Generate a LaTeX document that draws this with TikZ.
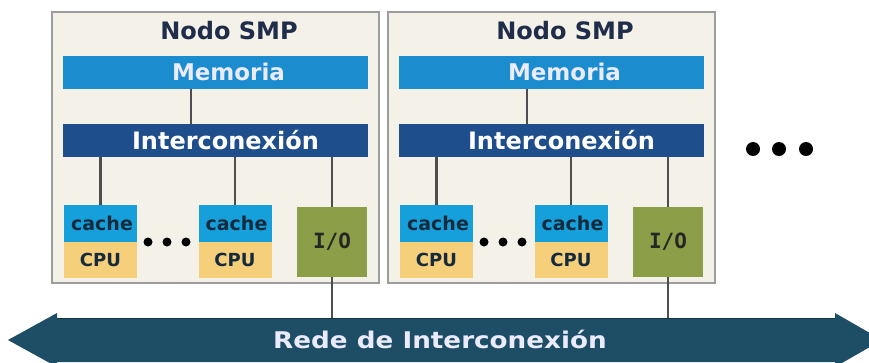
\documentclass[tikz,border=0pt]{standalone}
\usepackage{fontspec}
\newfontfamily\vfont{DejaVu Sans}
\newfontfamily\rfont{DejaVu Sans}[FakeStretch=1.14]
\newfontfamily\mfont{DejaVu Sans Mono}
\definecolor{boxfill}{HTML}{F4F2E8}
\definecolor{boxline}{HTML}{9C9C9C}
\definecolor{memc}{HTML}{1B8CCD}
\definecolor{intc}{HTML}{1F4E8C}
\definecolor{cachec}{HTML}{16A0DB}
\definecolor{cpuc}{HTML}{F5CF7A}
\definecolor{ioc}{HTML}{8C9F48}
\definecolor{arrowc}{HTML}{1E4D66}
\definecolor{titlec}{HTML}{1F2D4A}
\definecolor{darktxt}{HTML}{152A3C}
\definecolor{conc}{HTML}{4E4E4E}
\tikzset{
  x=1pt,y=-1pt,
  smpbox/.style={draw=boxline,line width=1.3pt,fill=boxfill,minimum width=327pt,minimum height=271pt,inner sep=0pt},
  bar/.style={minimum width=305pt,minimum height=33pt,inner sep=0pt},
  membar/.style={bar,fill=memc,text=blue!8!white,font=\vfont\bfseries\fontsize{23}{23}\selectfont},
  intbar/.style={bar,fill=intc,text=white,font=\vfont\bfseries\fontsize{24}{24}\selectfont},
  cachebox/.style={fill=cachec,minimum width=73pt,minimum height=37pt,inner sep=0pt,text=darktxt,font=\vfont\bfseries\fontsize{19}{19}\selectfont},
  cpubox/.style={fill=cpuc,minimum width=73pt,minimum height=36pt,inner sep=0pt,text=darktxt,font=\vfont\bfseries\fontsize{18}{18}\selectfont},
  iobox/.style={fill=ioc,minimum width=70pt,minimum height=70pt,inner sep=0pt,text=black!85,font=\mfont\bfseries\fontsize{21}{21}\selectfont},
  conn/.style={draw=conc,line width=2.4pt},
  dot/.style={fill=black,circle,inner sep=0pt}
}
\begin{document}
\begin{tikzpicture}
\useasboundingbox (0,0) rectangle (869,362);
\clip (0,0) rectangle (869,362);
\fill[white] (0,0) rectangle (869,362);
\foreach \dx/\s in {0/a,336/b}{
  \node[smpbox] (box\s) at (215.5+\dx,147.5) {};
  \node[text=titlec,font=\vfont\bfseries\fontsize{24}{24}\selectfont,inner sep=0pt] (title\s) at (229+\dx,31) {Nodo SMP};
  \node[membar] (mem\s) at (215.5+\dx,72) {\hspace*{26pt}Memoria};
  \node[intbar] (int\s) at (215.5+\dx,140.5) {\hspace*{20pt}Interconexión};
  \node[cachebox] (cacheone\s) at (100.5+\dx,223.5) {\hspace*{3pt}cache};
  \node[cpubox] (cpuone\s) at (100.5+\dx,260) {CPU};
  \node[cachebox] (cachetwo\s) at (235+\dx,223.5) {\hspace*{3pt}cache};
  \node[cpubox] (cputwo\s) at (235+\dx,260) {CPU};
  \node[iobox] (io\s) at (332+\dx,242) {I/O};
  \node[dot,minimum size=9pt] (d1\s) at (148+\dx,242) {};
  \node[dot,minimum size=9pt] (d2\s) at (167+\dx,242) {};
  \node[dot,minimum size=9pt] (d3\s) at (186+\dx,242) {};
  \coordinate (m\s) at (191+\dx,88.5);
  \draw[conn] (m\s) -- (m\s |- int\s.north);
  \draw[conn] (cacheone\s.north) -- (cacheone\s.north |- int\s.south);
  \draw[conn] (cachetwo\s.north) -- (cachetwo\s.north |- int\s.south);
  \draw[conn] (io\s.north) -- (io\s.north |- int\s.south);
}
% big dots
\node[dot,minimum size=14pt] (bd1) at (753,149) {};
\node[dot,minimum size=14pt] (bd2) at (779,149) {};
\node[dot,minimum size=14pt] (bd3) at (806,149) {};
% bus arrow
\fill[arrowc] (8,340) -- (57,313) -- (57,318) -- (835,318) -- (835,313) -- (882,340) -- (835,367) -- (835,362) -- (57,362) -- (57,367) -- cycle;
\draw[arrowc!70!black,line width=1pt] (57,318.5) -- (835,318.5);
\coordinate (bus) at (440,318);
\node[text=white!92!blue,font=\rfont\bfseries\fontsize{23}{23}\selectfont,inner sep=0pt] (rede) at (440,339) {Rede de Interconexión};
\draw[conn] (ioa.south) -- (ioa.south |- bus);
\draw[conn] (iob.south) -- (iob.south |- bus);
\end{tikzpicture}
\end{document}
